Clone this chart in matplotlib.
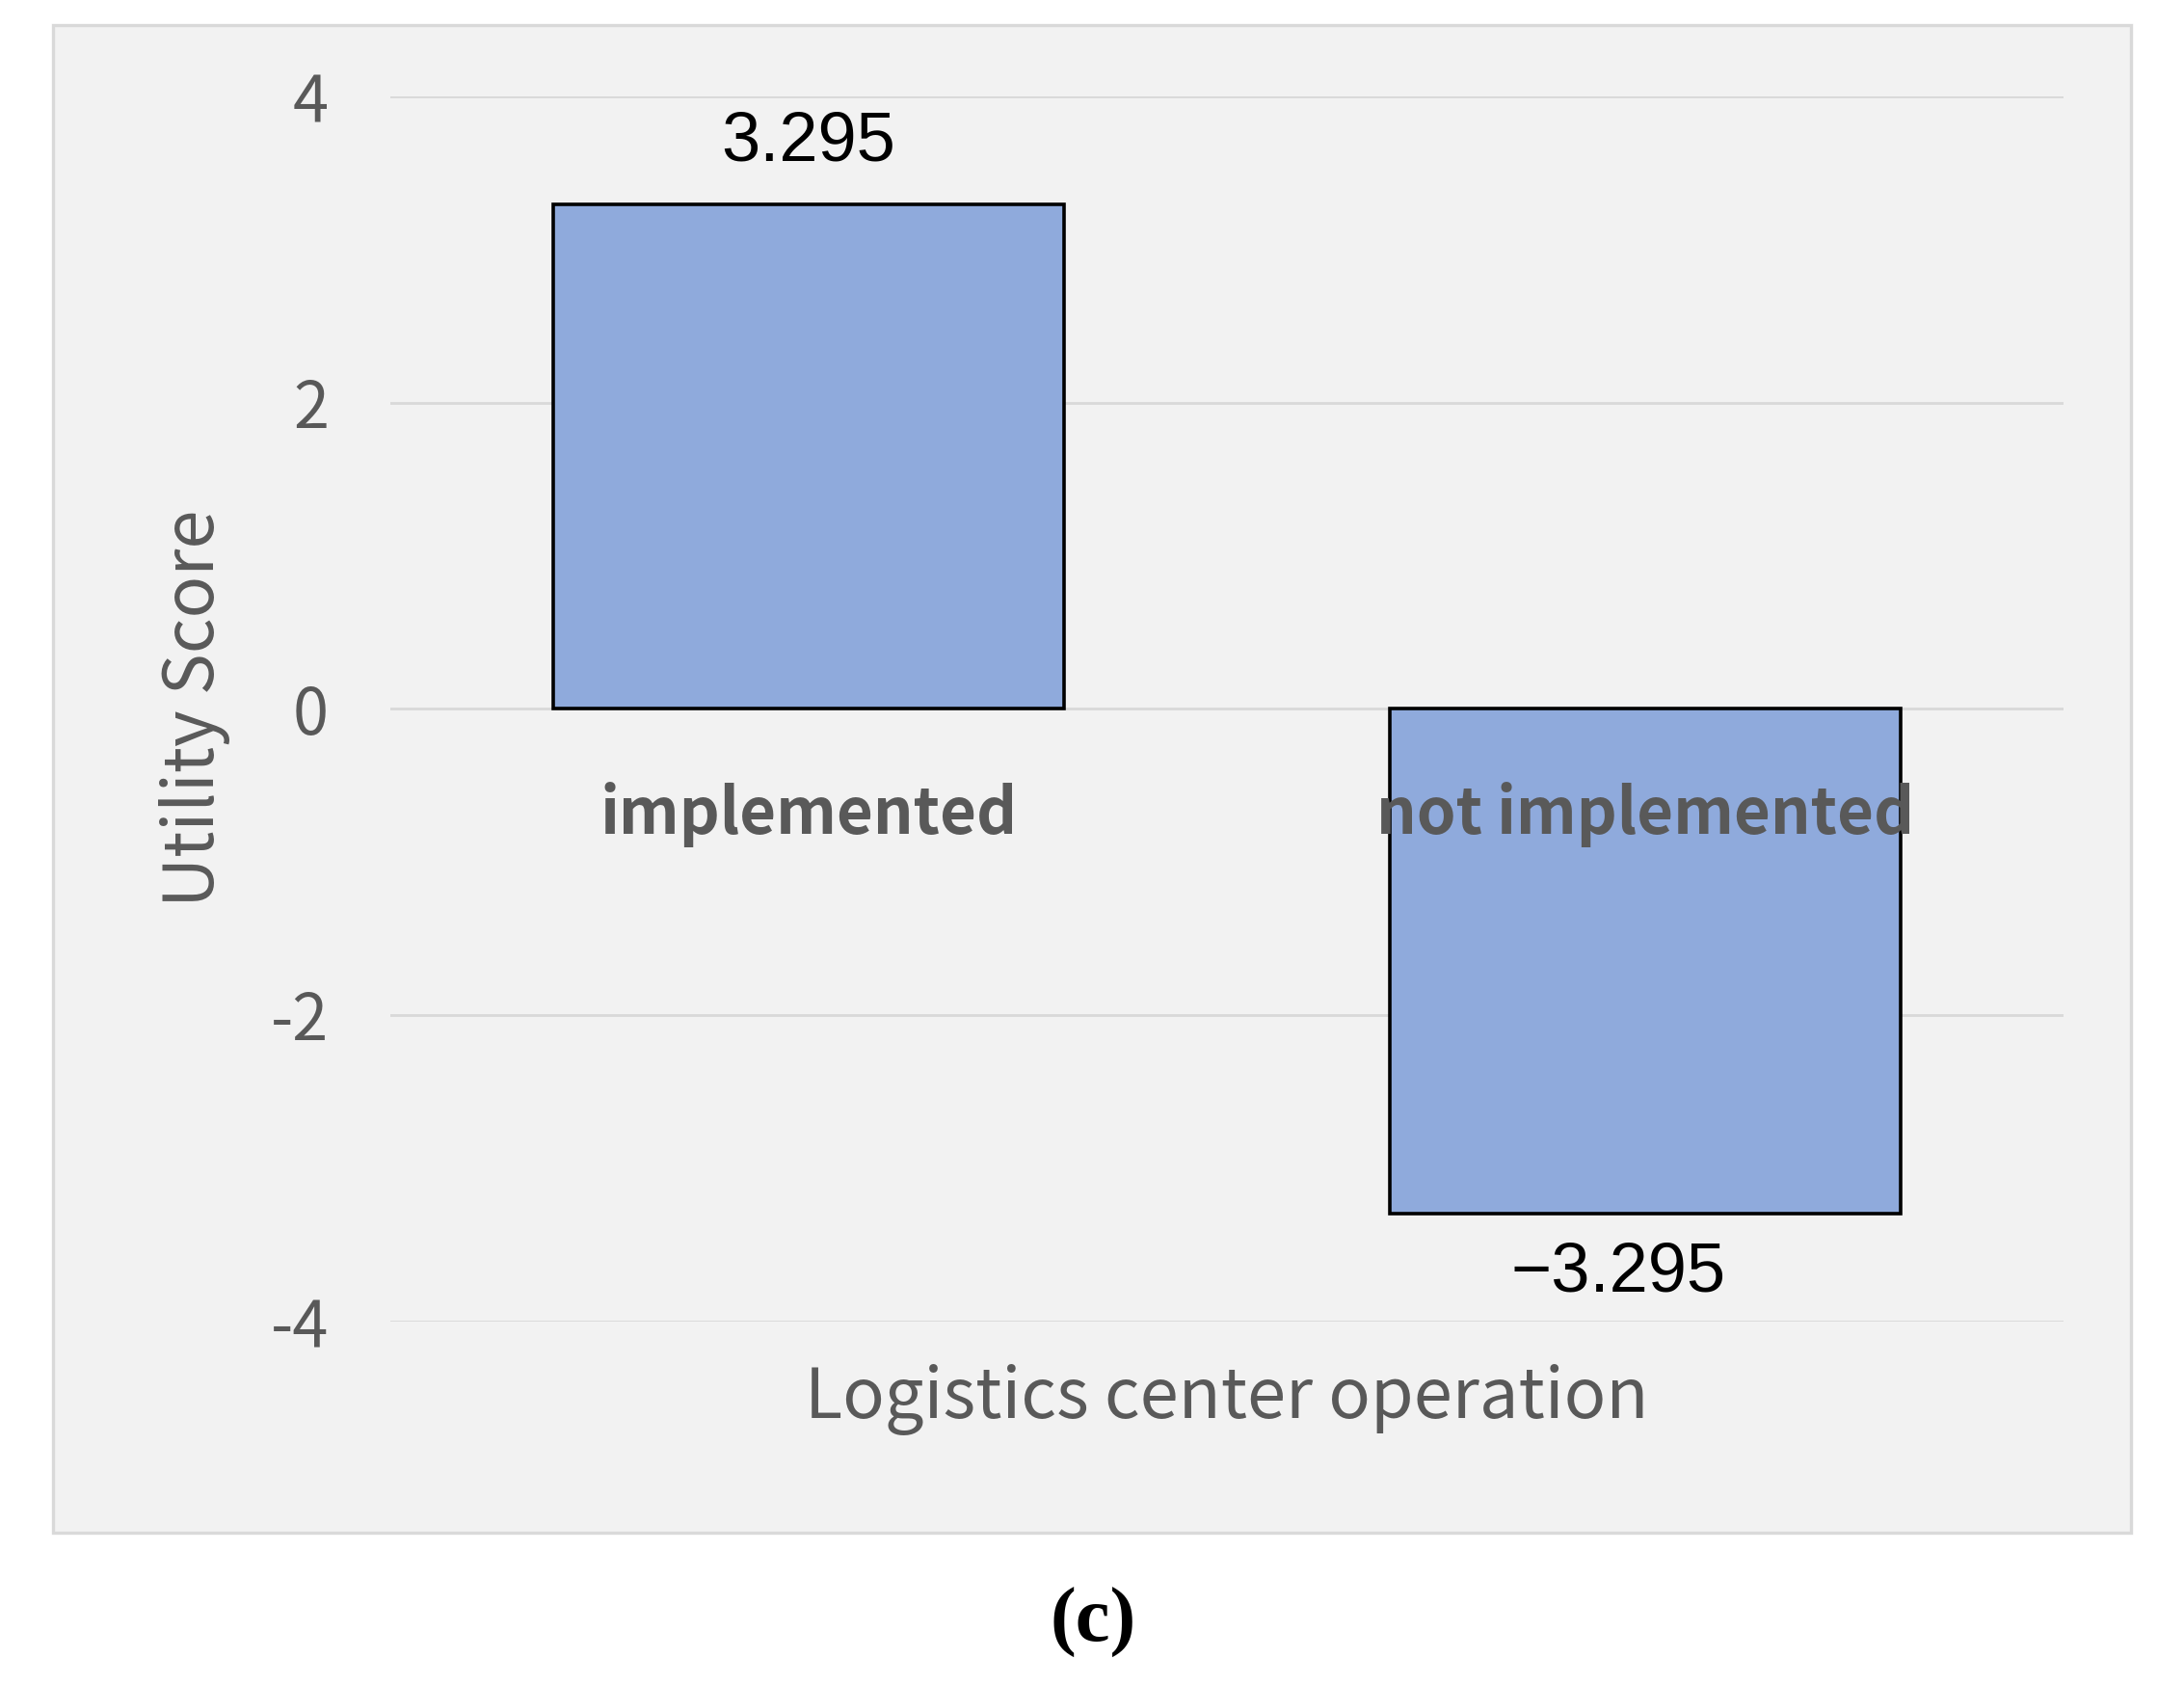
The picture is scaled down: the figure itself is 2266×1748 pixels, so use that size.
import matplotlib
matplotlib.use("Agg")
import matplotlib.pyplot as plt
from matplotlib.patches import Rectangle

# data
categories = ["implemented", "not implemented"]
utility = [3.295, -3.295]
value_labels = ["3.295", "\u22123.295"]
yticks = [-4, -2, 0, 2, 4]

plt.rcParams["axes.unicode_minus"] = False
plt.rcParams["font.family"] = ["Noto Sans CJK KR", "DejaVu Sans"]

grey = "#595959"

fig = plt.figure(figsize=(11.33, 8.74), dpi=200)
fig.patch.set_facecolor("white")

# chart area panel like excel
panel = Rectangle((0.0243, 0.0904), 0.9514, 0.8947, transform=fig.transFigure,
                  facecolor="#f2f2f2", edgecolor="#d9d9d9", linewidth=1.2, zorder=-5)
fig.add_artist(panel)

ax = fig.add_axes([0.1787, 0.2157, 0.9448 - 0.1787, 0.9428 - 0.2157])
ax.set_facecolor("none")
ax.set_zorder(2)

x = list(range(len(categories)))
ax.bar(x, utility, width=0.61, color="#8faadc", edgecolor="black", linewidth=1.3, zorder=3)

ax.set_xlim(-0.5, 1.5)
ax.set_ylim(-4, 4)
ax.set_yticks(yticks)
ax.set_yticklabels([str(t) for t in yticks])
ax.set_xticks([])
ax.grid(axis="y", color="#d9d9d9", linewidth=1.0, zorder=0)
ax.set_axisbelow(True)
for s in ax.spines.values():
    s.set_visible(False)
ax.tick_params(axis="y", length=0, pad=23, labelsize=24, labelcolor=grey)

# category labels sitting under the zero line
for xi, name in zip(x, categories):
    ax.text(xi, -0.69, name, ha="center", va="center", fontsize=23.5,
            fontweight="bold", color=grey, zorder=4)

# value labels
for xi, v, lab in zip(x, utility, value_labels):
    if v >= 0:
        off = (0, 16.5)
    else:
        off = (-10, -29)
    ax.annotate(lab, (xi, v), xytext=off, textcoords="offset points",
                ha="center", va="baseline", fontsize=26, color="black",
                family=["Liberation Sans", "DejaVu Sans"], zorder=4)

fig.text(0.0892, 0.5795, "Utility Score", rotation=90, ha="center", va="center",
         fontsize=26, color=grey)
fig.text(0.5618, 0.1693, "Logistics center operation", ha="center", va="center",
         fontsize=26, color=grey)

fig.text(0.5004, 0.0372, "(c)", ha="center", va="center", fontsize=29,
         fontweight="bold", family=["Liberation Serif", "DejaVu Serif"])

fig.savefig("out.png", dpi=200)
